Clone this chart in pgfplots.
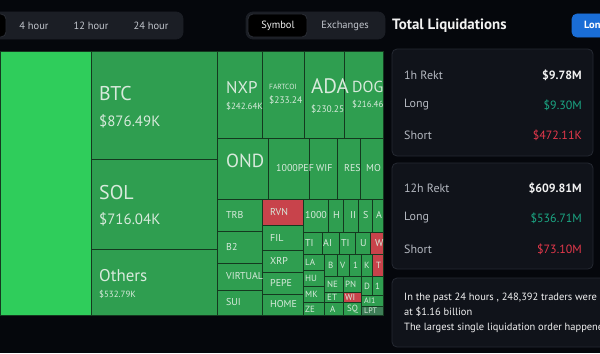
\documentclass[border=0pt]{standalone}
\usepackage{pgfplots}
\pgfplotsset{compat=1.18}
\usepackage{fontspec}
\setmainfont{PT Sans}
\definecolor{bg}{HTML}{05070C}
\definecolor{pill}{HTML}{1B1E25}
\definecolor{pillsel}{HTML}{000000}
\definecolor{pillline}{HTML}{2A2D35}
\definecolor{uitext}{HTML}{C3C7CE}
\definecolor{gbright}{HTML}{2FCD5B}
\definecolor{gdark}{HTML}{2F9E50}
\definecolor{tmline}{HTML}{14391F}
\definecolor{tred}{HTML}{C8434B}
\definecolor{lpt}{HTML}{3E7E57}
\definecolor{tmtext}{HTML}{D8EADC}
\definecolor{card}{HTML}{10131A}
\definecolor{cardline}{HTML}{252932}
\definecolor{greytext}{HTML}{B4B8C0}
\definecolor{whitetext}{HTML}{F2F2F2}
\definecolor{teal}{HTML}{1BA784}
\definecolor{redtext}{HTML}{E5384B}
\definecolor{blue}{HTML}{1A6DD6}

% cell: x0 y0 x1 y1 colour
\newcommand{\cell}[5]{\addplot[fill=#5, draw=tmline, line width=0.8bp] coordinates {(#1,#2) (#3,#2) (#3,#4) (#1,#4)} --cycle;}
% box: x0 y0 x1 y1 fill draw radius
\newcommand{\rbox}[7]{\addplot[fill=#5, draw=#6, line width=0.8bp, rounded corners=#7] coordinates {(#1,#2) (#3,#2) (#3,#4) (#1,#4)} --cycle;}
% label: x y size text
\newcommand{\lab}[4]{\node[anchor=west, inner sep=0pt, font=\fontsize{#3}{#3}\selectfont, text=tmtext] at (axis cs:#1,#2) {#4};}

\begin{document}
\begin{tikzpicture}
\begin{axis}[name=ax, hide axis, scale only axis, width=600bp, height=353bp,
  xmin=0, xmax=600, ymin=0, ymax=353, y dir=reverse, clip=true]
% background
\addplot[fill=bg, draw=none] coordinates {(0,0) (600,0) (600,353) (0,353)} --cycle;
% top pills
\rbox{-10}{12}{183}{39}{pill}{pill}{7bp}
\rbox{-6}{14}{6}{37}{pillsel}{pillline}{5bp}
\rbox{246}{12}{385}{39}{pill}{pill}{7bp}
\rbox{248}{14}{307}{37}{pillsel}{pillline}{5bp}
% blue button
\rbox{572}{14}{630}{37}{blue}{blue}{5bp}
% cards
\rbox{392}{49}{593}{156}{card}{cardline}{5bp}
\rbox{392}{163}{593}{269}{card}{cardline}{5bp}
\rbox{392}{278}{640}{347}{card}{cardline}{5bp}
% treemap
\addplot[fill=tmline, draw=none] coordinates {(0,51) (383,51) (383,315) (0,315)} --cycle;
\cell{0}{51}{91}{315}{gbright}
\cell{91}{51}{217}{159}{gdark}
\cell{91}{159}{217}{249}{gdark}
\cell{91}{249}{217}{315}{gdark}
\cell{217}{51}{262}{138}{gdark}
\cell{262}{51}{304}{138}{gdark}
\cell{304}{51}{344}{138}{gdark}
\cell{344}{51}{383}{138}{gdark}
\cell{217}{138}{268}{199}{gdark}
\cell{268}{138}{309}{199}{gdark}
\cell{309}{138}{337}{199}{gdark}
\cell{337}{138}{360}{199}{gdark}
\cell{360}{138}{383}{199}{gdark}
\cell{217}{199}{262}{231}{gdark}
\cell{217}{231}{262}{263}{gdark}
\cell{217}{263}{262}{290}{gdark}
\cell{217}{290}{262}{315}{gdark}
\cell{262}{199}{303}{225}{tred}
\cell{262}{225}{303}{250}{gdark}
\cell{262}{250}{303}{272}{gdark}
\cell{262}{272}{303}{294}{gdark}
\cell{262}{294}{303}{315}{gdark}
\cell{303}{199}{328}{232}{gdark}
\cell{328}{199}{343}{232}{gdark}
\cell{343}{199}{358}{232}{gdark}
\cell{358}{199}{372}{232}{gdark}
\cell{372}{199}{383}{232}{gdark}
\cell{303}{232}{322}{254}{gdark}
\cell{322}{232}{339}{254}{gdark}
\cell{339}{232}{355}{254}{gdark}
\cell{355}{232}{370}{254}{gdark}
\cell{370}{232}{383}{254}{tred}
\cell{303}{254}{324}{270}{gdark}
\cell{303}{270}{324}{286}{gdark}
\cell{303}{286}{324}{302}{gdark}
\cell{303}{302}{324}{315}{gdark}
\cell{324}{254}{337}{276}{gdark}
\cell{337}{254}{349}{276}{gdark}
\cell{349}{254}{361}{276}{gdark}
\cell{361}{254}{372}{276}{gdark}
\cell{372}{254}{383}{276}{tred}
\cell{324}{276}{343}{292}{gdark}
\cell{343}{276}{361}{292}{gdark}
\cell{361}{276}{372}{295}{gdark}
\cell{372}{276}{383}{295}{gdark}
\cell{324}{292}{343}{302}{gdark}
\cell{343}{292}{361}{302}{tred}
\cell{324}{302}{343}{315}{gdark}
\cell{343}{302}{361}{315}{gdark}
\cell{361}{295}{383}{306}{gdark}
\cell{361}{306}{383}{315}{lpt}
% treemap labels
\lab{99}{94}{20}{BTC}
\lab{99}{121}{15}{\$876.49K}
\lab{99}{193}{20}{SOL}
\lab{99}{219}{15}{\$716.04K}
\lab{99}{276}{17}{Others}
\lab{99}{294}{9}{\$532.79K}
\lab{226}{88}{17}{NXP}
\lab{226}{106}{9}{\$242.64K}
\lab{269}{87}{7.5}{FARTCOI}
\lab{269}{100}{9.5}{\$233.24}
\lab{311}{86}{21}{ADA}
\lab{311}{109}{9.5}{\$230.25}
\lab{352}{87}{16}{DOG}
\lab{352}{104}{9}{\$216.46}
\lab{226}{161}{19}{OND}
\lab{276}{168}{10}{1000PEF}
\lab{316}{168}{10}{WIF}
\lab{344}{168}{10}{RES}
\lab{366}{168}{10}{MO}
\lab{226}{215}{10}{TRB}
\lab{226}{247}{10}{B2}
\lab{226}{276}{10}{VIRTUAL}
\lab{226}{302}{10}{SUI}
\lab{270}{212}{10}{RVN}
\lab{270}{238}{10}{FIL}
\lab{270}{261}{10}{XRP}
\lab{270}{283}{10}{PEPE}
\lab{270}{304}{10}{HOME}
\lab{305}{215}{10}{1000}
\lab{333}{215}{10}{H}
\lab{350}{215}{10}{II}
\lab{363}{215}{10}{S}
\lab{376}{215}{10}{A}
\lab{305}{243}{10}{TI}
\lab{323}{243}{10}{AI}
\lab{341}{243}{10}{TI}
\lab{360}{243}{10}{U}
\lab{375}{243}{10}{W}
\lab{305}{262}{9}{LA}
\lab{305}{278}{9}{HU}
\lab{305}{294}{9}{MK}
\lab{305}{309}{9}{ZE}
\lab{328}{265}{9}{B}
\lab{340}{265}{9}{V}
\lab{353}{265}{9}{1}
\lab{364}{265}{9}{K}
\lab{376}{265}{9}{T}
\lab{327}{284}{9}{NE}
\lab{345}{284}{9}{PN}
\lab{364}{286}{9}{D}
\lab{375}{286}{9}{1}
\lab{327}{297}{9}{ET}
\lab{345}{297}{9}{WI}
\lab{330}{309}{9}{A}
\lab{347}{309}{9}{SQ}
\lab{364}{301}{8}{AI1}
\lab{364}{311}{8}{LPT}
% top bar text
\node[font=\fontsize{10.5}{10.5}\selectfont, text=uitext] at (axis cs:34,26) {4 hour};
\node[font=\fontsize{10.5}{10.5}\selectfont, text=uitext] at (axis cs:91,26) {12 hour};
\node[font=\fontsize{10.5}{10.5}\selectfont, text=uitext] at (axis cs:151,26) {24 hour};
\node[font=\fontsize{10.5}{10.5}\selectfont, text=whitetext] at (axis cs:278,26) {Symbol};
\node[font=\fontsize{10.5}{10.5}\selectfont, text=uitext] at (axis cs:345,26) {Exchanges};
\node[anchor=west, inner sep=0pt, font=\bfseries\fontsize{15}{15}\selectfont, text=whitetext] at (axis cs:392,26) {Total Liquidations};
\node[anchor=west, inner sep=0pt, font=\bfseries\fontsize{10.5}{10.5}\selectfont, text=white] at (axis cs:584,25.5) {Long};
% card 1
\node[anchor=west, inner sep=0pt, font=\fontsize{12}{12}\selectfont, text=greytext] at (axis cs:404,75) {1h Rekt};
\node[anchor=west, inner sep=0pt, font=\fontsize{12}{12}\selectfont, text=greytext] at (axis cs:404,105) {Long};
\node[anchor=west, inner sep=0pt, font=\fontsize{12}{12}\selectfont, text=greytext] at (axis cs:404,135) {Short};
\node[anchor=east, inner sep=0pt, font=\bfseries\fontsize{12}{12}\selectfont, text=whitetext] at (axis cs:582,75) {\$9.78M};
\node[anchor=east, inner sep=0pt, font=\fontsize{12}{12}\selectfont, text=teal] at (axis cs:582,105) {\$9.30M};
\node[anchor=east, inner sep=0pt, font=\fontsize{12}{12}\selectfont, text=redtext] at (axis cs:582,135) {\$472.11K};
% card 2
\node[anchor=west, inner sep=0pt, font=\fontsize{12}{12}\selectfont, text=greytext] at (axis cs:404,188) {12h Rekt};
\node[anchor=west, inner sep=0pt, font=\fontsize{12}{12}\selectfont, text=greytext] at (axis cs:404,218) {Long};
\node[anchor=west, inner sep=0pt, font=\fontsize{12}{12}\selectfont, text=greytext] at (axis cs:404,249) {Short};
\node[anchor=east, inner sep=0pt, font=\bfseries\fontsize{12}{12}\selectfont, text=whitetext] at (axis cs:582,188) {\$609.81M};
\node[anchor=east, inner sep=0pt, font=\fontsize{12}{12}\selectfont, text=teal] at (axis cs:582,218) {\$536.71M};
\node[anchor=east, inner sep=0pt, font=\fontsize{12}{12}\selectfont, text=redtext] at (axis cs:582,249) {\$73.10M};
% card 3
\node[anchor=west, inner sep=0pt, font=\fontsize{10.5}{10.5}\selectfont, text=whitetext] at (axis cs:404,297.5) {In the past 24 hours , 248,392 traders were liquidated};
\node[anchor=west, inner sep=0pt, font=\fontsize{10.5}{10.5}\selectfont, text=whitetext] at (axis cs:404,312) {at \$1.16 billion};
\node[anchor=west, inner sep=0pt, font=\fontsize{10.5}{10.5}\selectfont, text=whitetext] at (axis cs:404,327.5) {The largest single liquidation order happened};
\end{axis}
\pgfresetboundingbox
\useasboundingbox (ax.south west) rectangle (ax.north east);
\end{tikzpicture}
\end{document}
